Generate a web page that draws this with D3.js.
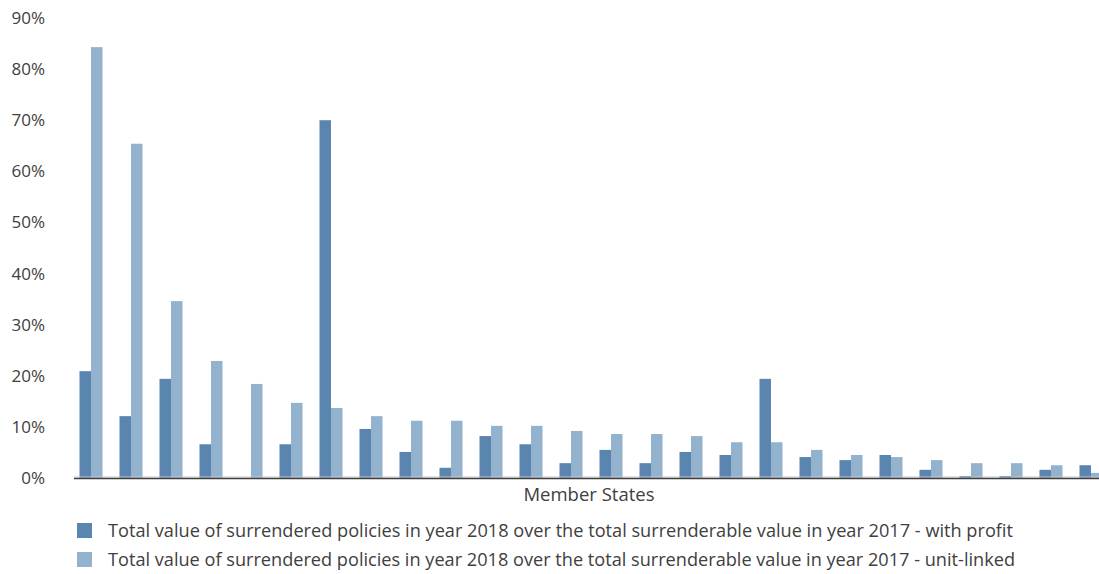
<!DOCTYPE html>
<html>
<head>
<meta charset="utf-8">
<script src="https://cdnjs.cloudflare.com/ajax/libs/d3/7.8.5/d3.min.js"></script>
<style>
  html, body { margin: 0; padding: 0; background: #ffffff; }
  svg { display: block; }
  text { font-family: "Open Sans", "DejaVu Sans", sans-serif; fill: #404040; }
</style>
</head>
<body>
<script>
// ---- data ----
const categories = ["MS01","MS02","MS03","MS04","MS05","MS06","MS07","MS08","MS09","MS10","MS11","MS12","MS13",
                    "MS14","MS15","MS16","MS17","MS18","MS19","MS20","MS21","MS22","MS23","MS24","MS25","MS26"];
const withProfit = [0.209, 0.121, 0.194, 0.066, 0.000, 0.066, 0.700, 0.096, 0.051, 0.020, 0.082, 0.066, 0.029,
                    0.055, 0.029, 0.051, 0.045, 0.194, 0.041, 0.035, 0.045, 0.016, 0.004, 0.004, 0.016, 0.025];
const unitLinked = [0.843, 0.654, 0.346, 0.229, 0.184, 0.147, 0.137, 0.121, 0.112, 0.112, 0.102, 0.102, 0.092,
                    0.086, 0.086, 0.082, 0.070, 0.070, 0.055, 0.045, 0.041, 0.035, 0.029, 0.029, 0.025, 0.010];
const seriesNames = [
  "Total value of surrendered policies in year 2018 over the total surrenderable value in year 2017 - with profit",
  "Total value of surrendered policies in year 2018 over the total surrenderable value in year 2017 - unit-linked"
];
const seriesColors = ["#5985AE", "#92B2CE"];
const yTicks = [0, 0.1, 0.2, 0.3, 0.4, 0.5, 0.6, 0.7, 0.8, 0.9];
const xAxisTitle = "Member States";

// ---- chart ----
const W = 1099, H = 574;
const svg = d3.select("body").append("svg").attr("width", W).attr("height", H);

const x0 = d3.scaleBand().domain(categories).range([71, 1111]).padding(0);
const x1 = d3.scaleBand().domain([0, 1]).range([8.5, 31.5]).padding(0);
const y = d3.scaleLinear().domain([0, 0.9]).range([478, 18]);

// y tick labels
const yAxis = d3.axisLeft(y).tickValues(yTicks).tickFormat(d3.format(".0%")).tickSize(0).tickPadding(0);
const gy = svg.append("g").attr("transform", "translate(45,0)").call(yAxis);
gy.select(".domain").remove();
gy.selectAll("text").style("font-size", "17px").attr("fill", "#404040")
  .style("font-family", "'Open Sans', sans-serif");

// bars
const rows = categories.map((c, i) => ({ cat: c, vals: [withProfit[i], unitLinked[i]] }));
const groups = svg.append("g").selectAll("g").data(rows).join("g")
  .attr("transform", d => `translate(${x0(d.cat)},0)`);
groups.selectAll("rect").data(d => d.vals.map((v, k) => ({ v, k }))).join("rect")
  .attr("x", d => x1(d.k))
  .attr("width", x1.bandwidth())
  .attr("y", d => y(d.v))
  .attr("height", d => y(0) - y(d.v))
  .attr("fill", d => seriesColors[d.k]);

// x axis line
svg.append("line").attr("x1", 74).attr("x2", W).attr("y1", y(0) - 1).attr("y2", y(0) - 1)
  .attr("stroke", "#c8c8c8").attr("stroke-width", 1);
svg.append("line").attr("x1", 74).attr("x2", W).attr("y1", y(0) + 0.5).attr("y2", y(0) + 0.5)
  .attr("stroke", "#404040").attr("stroke-width", 1.5);

// x axis title
svg.append("text").attr("x", 589).attr("y", 501).attr("text-anchor", "middle")
  .style("font-size", "18.5px").text(xAxisTitle);

// legend
const leg = svg.append("g");
const legY = [531, 560];
seriesNames.forEach((name, k) => {
  leg.append("rect").attr("x", 77).attr("y", legY[k] - 8).attr("width", 15).attr("height", 15)
    .attr("fill", seriesColors[k]);
  leg.append("text").attr("x", 108).attr("y", legY[k]).attr("dy", "0.35em")
    .style("font-size", "18px")
    .attr("textLength", k === 0 ? 905 : 907).attr("lengthAdjust", "spacingAndGlyphs")
    .text(name);
});
</script>
</body>
</html>
